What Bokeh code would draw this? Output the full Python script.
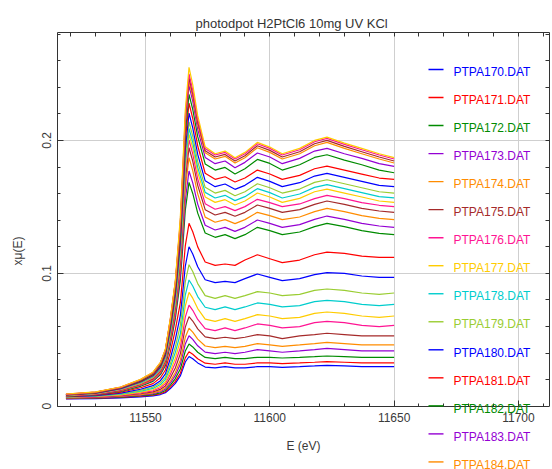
from bokeh.plotting import figure
from bokeh.models import (LinearAxis, SingleIntervalTicker, FixedTicker, CustomJSTickFormatter,
                          Label, BoxAnnotation, Range1d)
from bokeh.embed import file_html
from bokeh.resources import INLINE

# ---------------- data ----------------
energy = [11518, 11530, 11540, 11548, 11553, 11556, 11558, 11560, 11562, 11564,
          11565, 11566, 11567.5, 11569, 11571, 11574, 11578, 11582, 11586, 11590,
          11595, 11600, 11605, 11612, 11618, 11623, 11630, 11637, 11644, 11650]

ptpa170 = [0.0056, 0.0058, 0.0063, 0.0071, 0.0078, 0.0088, 0.0102, 0.0133, 0.0172, 0.0228, 0.0279, 0.0333, 0.0374, 0.0357, 0.0326, 0.0295, 0.0288, 0.0298, 0.0288, 0.0288, 0.0298, 0.0298, 0.0293, 0.0298, 0.0303, 0.0308, 0.0303, 0.0298, 0.0298, 0.0298]
ptpa171 = [0.0058, 0.0060, 0.0066, 0.0075, 0.0083, 0.0094, 0.0109, 0.0144, 0.0187, 0.0248, 0.0304, 0.0364, 0.0410, 0.0391, 0.0357, 0.0324, 0.0316, 0.0326, 0.0316, 0.0316, 0.0326, 0.0326, 0.0321, 0.0326, 0.0331, 0.0336, 0.0331, 0.0326, 0.0326, 0.0326]
ptpa172 = [0.0060, 0.0063, 0.0069, 0.0079, 0.0088, 0.0101, 0.0119, 0.0159, 0.0208, 0.0280, 0.0346, 0.0415, 0.0468, 0.0446, 0.0406, 0.0367, 0.0358, 0.0368, 0.0358, 0.0358, 0.0368, 0.0368, 0.0363, 0.0368, 0.0373, 0.0378, 0.0373, 0.0368, 0.0368, 0.0368]
ptpa173 = [0.0062, 0.0065, 0.0073, 0.0084, 0.0095, 0.0109, 0.0129, 0.0175, 0.0232, 0.0315, 0.0390, 0.0469, 0.0530, 0.0503, 0.0455, 0.0407, 0.0396, 0.0406, 0.0396, 0.0406, 0.0426, 0.0416, 0.0406, 0.0416, 0.0426, 0.0436, 0.0426, 0.0416, 0.0416, 0.0416]
ptpa174 = [0.0063, 0.0067, 0.0075, 0.0088, 0.0100, 0.0116, 0.0139, 0.0190, 0.0254, 0.0346, 0.0430, 0.0519, 0.0587, 0.0558, 0.0505, 0.0453, 0.0441, 0.0451, 0.0441, 0.0451, 0.0471, 0.0461, 0.0451, 0.0461, 0.0471, 0.0481, 0.0471, 0.0461, 0.0461, 0.0461]
ptpa175 = [0.0065, 0.0069, 0.0079, 0.0094, 0.0108, 0.0127, 0.0153, 0.0214, 0.0288, 0.0394, 0.0491, 0.0595, 0.0674, 0.0641, 0.0582, 0.0522, 0.0509, 0.0519, 0.0509, 0.0519, 0.0539, 0.0529, 0.0509, 0.0529, 0.0539, 0.0549, 0.0539, 0.0529, 0.0529, 0.0529]
ptpa176 = [0.0066, 0.0071, 0.0082, 0.0100, 0.0116, 0.0139, 0.0169, 0.0240, 0.0327, 0.0441, 0.0552, 0.0670, 0.0760, 0.0722, 0.0653, 0.0584, 0.0569, 0.0589, 0.0569, 0.0589, 0.0619, 0.0609, 0.0589, 0.0599, 0.0629, 0.0639, 0.0629, 0.0609, 0.0599, 0.0609]
ptpa177 = [0.0068, 0.0074, 0.0086, 0.0106, 0.0124, 0.0150, 0.0184, 0.0264, 0.0361, 0.0494, 0.0620, 0.0754, 0.0857, 0.0813, 0.0735, 0.0656, 0.0639, 0.0659, 0.0639, 0.0659, 0.0689, 0.0679, 0.0659, 0.0669, 0.0699, 0.0709, 0.0699, 0.0679, 0.0669, 0.0679]
ptpa178 = [0.0070, 0.0076, 0.0091, 0.0113, 0.0134, 0.0163, 0.0202, 0.0293, 0.0405, 0.0545, 0.0686, 0.0836, 0.0950, 0.0905, 0.0825, 0.0745, 0.0727, 0.0747, 0.0727, 0.0747, 0.0777, 0.0767, 0.0747, 0.0757, 0.0787, 0.0797, 0.0787, 0.0767, 0.0757, 0.0767]
ptpa179 = [0.0071, 0.0078, 0.0094, 0.0119, 0.0143, 0.0176, 0.0219, 0.0321, 0.0446, 0.0608, 0.0767, 0.0936, 0.1065, 0.1014, 0.0923, 0.0832, 0.0812, 0.0832, 0.0812, 0.0832, 0.0862, 0.0852, 0.0832, 0.0842, 0.0872, 0.0882, 0.0872, 0.0852, 0.0842, 0.0852]
ptpa180 = [0.0072, 0.0080, 0.0099, 0.0128, 0.0155, 0.0192, 0.0243, 0.0359, 0.0503, 0.0681, 0.0862, 0.1053, 0.1200, 0.1146, 0.1049, 0.0952, 0.0930, 0.0940, 0.0930, 0.0960, 0.0995, 0.0970, 0.0945, 0.0960, 0.0990, 0.1005, 0.1000, 0.0980, 0.0970, 0.0970]
ptpa181 = [0.0074, 0.0083, 0.0105, 0.0139, 0.0170, 0.0214, 0.0273, 0.0409, 0.0576, 0.0777, 0.0985, 0.1207, 0.1376, 0.1313, 0.1199, 0.1085, 0.1060, 0.1070, 0.1060, 0.1100, 0.1140, 0.1110, 0.1080, 0.1100, 0.1140, 0.1160, 0.1150, 0.1130, 0.1120, 0.1120]
ptpa182 = [0.0075, 0.0086, 0.0112, 0.0150, 0.0187, 0.0238, 0.0306, 0.0464, 0.0659, 0.0944, 0.1201, 0.1475, 0.1684, 0.1601, 0.1453, 0.1304, 0.1271, 0.1291, 0.1261, 0.1291, 0.1346, 0.1321, 0.1291, 0.1311, 0.1351, 0.1376, 0.1351, 0.1321, 0.1301, 0.1291]
ptpa183 = [0.0077, 0.0088, 0.0115, 0.0156, 0.0194, 0.0247, 0.0318, 0.0483, 0.0686, 0.0991, 0.1262, 0.1550, 0.1770, 0.1681, 0.1521, 0.1362, 0.1326, 0.1346, 0.1316, 0.1346, 0.1401, 0.1376, 0.1346, 0.1366, 0.1406, 0.1431, 0.1406, 0.1376, 0.1356, 0.1346]
ptpa184 = [0.0078, 0.0090, 0.0118, 0.0160, 0.0200, 0.0256, 0.0330, 0.0502, 0.0715, 0.1046, 0.1332, 0.1637, 0.1870, 0.1773, 0.1598, 0.1423, 0.1384, 0.1404, 0.1374, 0.1404, 0.1459, 0.1434, 0.1404, 0.1424, 0.1464, 0.1489, 0.1464, 0.1434, 0.1414, 0.1404]
ptpa185 = [0.0079, 0.0091, 0.0120, 0.0165, 0.0206, 0.0264, 0.0341, 0.0521, 0.0741, 0.1087, 0.1385, 0.1702, 0.1945, 0.1844, 0.1662, 0.1479, 0.1439, 0.1459, 0.1429, 0.1459, 0.1514, 0.1489, 0.1459, 0.1479, 0.1519, 0.1544, 0.1519, 0.1489, 0.1469, 0.1459]
ptpa186 = [0.0080, 0.0093, 0.0123, 0.0168, 0.0211, 0.0271, 0.0350, 0.0535, 0.0763, 0.1118, 0.1426, 0.1753, 0.2003, 0.1899, 0.1711, 0.1524, 0.1482, 0.1502, 0.1472, 0.1502, 0.1557, 0.1532, 0.1502, 0.1522, 0.1562, 0.1587, 0.1562, 0.1532, 0.1512, 0.1502]
ptpa187 = [0.0082, 0.0095, 0.0126, 0.0172, 0.0216, 0.0277, 0.0358, 0.0547, 0.0779, 0.1143, 0.1457, 0.1791, 0.2046, 0.1944, 0.1759, 0.1575, 0.1534, 0.1554, 0.1514, 0.1544, 0.1604, 0.1574, 0.1534, 0.1564, 0.1614, 0.1634, 0.1604, 0.1574, 0.1544, 0.1534]
ptpa188 = [0.0083, 0.0096, 0.0128, 0.0175, 0.0220, 0.0282, 0.0365, 0.0558, 0.0795, 0.1167, 0.1488, 0.1829, 0.2090, 0.1985, 0.1797, 0.1609, 0.1567, 0.1587, 0.1547, 0.1577, 0.1637, 0.1607, 0.1567, 0.1597, 0.1647, 0.1667, 0.1637, 0.1607, 0.1577, 0.1567]
ptpa189 = [0.0084, 0.0098, 0.0130, 0.0178, 0.0224, 0.0288, 0.0373, 0.0570, 0.0814, 0.1194, 0.1523, 0.1873, 0.2140, 0.2033, 0.1840, 0.1647, 0.1604, 0.1624, 0.1584, 0.1614, 0.1674, 0.1644, 0.1604, 0.1634, 0.1684, 0.1704, 0.1674, 0.1644, 0.1614, 0.1604]
ptpa190 = [0.0085, 0.0099, 0.0132, 0.0182, 0.0229, 0.0295, 0.0383, 0.0586, 0.0837, 0.1230, 0.1569, 0.1929, 0.2205, 0.2094, 0.1895, 0.1696, 0.1652, 0.1672, 0.1632, 0.1662, 0.1722, 0.1692, 0.1652, 0.1682, 0.1732, 0.1752, 0.1722, 0.1692, 0.1662, 0.1652]
ptpa191 = [0.0086, 0.0101, 0.0135, 0.0187, 0.0235, 0.0303, 0.0394, 0.0605, 0.0864, 0.1271, 0.1622, 0.1995, 0.2280, 0.2165, 0.1959, 0.1753, 0.1707, 0.1727, 0.1687, 0.1717, 0.1777, 0.1747, 0.1707, 0.1737, 0.1787, 0.1807, 0.1777, 0.1747, 0.1717, 0.1707]
ptpa192 = [0.0087, 0.0102, 0.0137, 0.0191, 0.0241, 0.0311, 0.0404, 0.0621, 0.0889, 0.1307, 0.1669, 0.2053, 0.2347, 0.2233, 0.2028, 0.1823, 0.1777, 0.1797, 0.1747, 0.1787, 0.1857, 0.1827, 0.1777, 0.1817, 0.1872, 0.1892, 0.1852, 0.1817, 0.1777, 0.1757]
ptpa193 = [0.0088, 0.0104, 0.0140, 0.0195, 0.0246, 0.0318, 0.0414, 0.0637, 0.0912, 0.1343, 0.1715, 0.2110, 0.2412, 0.2295, 0.2083, 0.1872, 0.1825, 0.1845, 0.1795, 0.1835, 0.1905, 0.1875, 0.1825, 0.1865, 0.1920, 0.1940, 0.1900, 0.1865, 0.1825, 0.1805]
ptpa194 = [0.0089, 0.0105, 0.0141, 0.0197, 0.0249, 0.0322, 0.0420, 0.0646, 0.0925, 0.1361, 0.1738, 0.2139, 0.2445, 0.2328, 0.2117, 0.1907, 0.1860, 0.1880, 0.1830, 0.1870, 0.1945, 0.1910, 0.1860, 0.1900, 0.1960, 0.1985, 0.1940, 0.1900, 0.1860, 0.1830]
ptpa195 = [0.0090, 0.0106, 0.0143, 0.0199, 0.0252, 0.0325, 0.0424, 0.0652, 0.0932, 0.1375, 0.1756, 0.2161, 0.2470, 0.2351, 0.2137, 0.1923, 0.1875, 0.1895, 0.1845, 0.1885, 0.1960, 0.1925, 0.1875, 0.1915, 0.1975, 0.2000, 0.1955, 0.1915, 0.1875, 0.1845]
ptpa196 = [0.0091, 0.0107, 0.0144, 0.0201, 0.0254, 0.0328, 0.0427, 0.0657, 0.0940, 0.1392, 0.1777, 0.2187, 0.2500, 0.2378, 0.2158, 0.1939, 0.1890, 0.1910, 0.1860, 0.1900, 0.1975, 0.1940, 0.1890, 0.1930, 0.1990, 0.2015, 0.1970, 0.1930, 0.1890, 0.1860]
ptpa197 = [0.0092, 0.0108, 0.0145, 0.0202, 0.0256, 0.0330, 0.0430, 0.0661, 0.0945, 0.1419, 0.1813, 0.2231, 0.2550, 0.2420, 0.2186, 0.1952, 0.1900, 0.1920, 0.1870, 0.1910, 0.1985, 0.1950, 0.1900, 0.1940, 0.2000, 0.2025, 0.1980, 0.1940, 0.1900, 0.1870]

series = [ptpa170, ptpa171, ptpa172, ptpa173, ptpa174, ptpa175, ptpa176, ptpa177,
          ptpa178, ptpa179, ptpa180, ptpa181, ptpa182, ptpa183, ptpa184, ptpa185,
          ptpa186, ptpa187, ptpa188, ptpa189, ptpa190, ptpa191, ptpa192, ptpa193,
          ptpa194, ptpa195, ptpa196, ptpa197]

legend_labels = ["PTPA170.DAT", "PTPA171.DAT", "PTPA172.DAT", "PTPA173.DAT",
                 "PTPA174.DAT", "PTPA175.DAT", "PTPA176.DAT", "PTPA177.DAT",
                 "PTPA178.DAT", "PTPA179.DAT", "PTPA180.DAT", "PTPA181.DAT",
                 "PTPA182.DAT", "PTPA183.DAT", "PTPA184.DAT"]

x_tick_interval = 50
y_tick_interval = 0.1
y_top = 0.2812
top_minor_ticks = [11520, 11530, 11540, 11550, 11560, 11570, 11580, 11590, 11600, 11610,
                   11620, 11630, 11640, 11650, 11660, 11670, 11680, 11690, 11700, 11710]
right_minor_ticks = [0.02, 0.04, 0.06, 0.08, 0.10, 0.12, 0.14, 0.16, 0.18, 0.20,
                     0.22, 0.24, 0.26, 0.28]

palette = ["#0000ff", "#ff0000", "#008b00", "#9400d3", "#ff8c00",
           "#a52a2a", "#ff1493", "#ffcc00", "#00cdcd", "#9acd32"]

FONT = "Liberation Sans"
TXT = "#3a3a3a"
AX = "#333333"

# ---------------- figure ----------------
# the frame runs down to the bottom of the canvas so that the legend (which in the
# reference runs past the x axis) is not clipped; the x axis sits at y = 0.
p = figure(width=552, height=469,
           x_range=Range1d(11514.6, 11712.5), y_range=Range1d(-0.0476, y_top),
           output_backend="svg", toolbar_location=None,
           min_border_left=57, min_border_right=3, min_border_top=32, min_border_bottom=0,
           x_axis_label="E (eV)", y_axis_label="x\u03bc(E)")
p.background_fill_color = "white"
p.border_fill_color = "white"
p.outline_line_color = None

p.title.text = "photodpot H2PtCl6 10mg UV KCl"
p.title.align = "left"
p.title.offset = 138
p.title.text_font = FONT
p.title.text_font_size = "13px"
p.title.text_font_style = "normal"
p.title.text_color = "#333333"
p.title.standoff = 4

xt = SingleIntervalTicker(interval=x_tick_interval, num_minor_ticks=5)
yt = SingleIntervalTicker(interval=y_tick_interval, num_minor_ticks=5)
p.xaxis.ticker = xt
p.yaxis.ticker = yt
p.xgrid.ticker = xt
p.ygrid.ticker = yt
p.yaxis.formatter = CustomJSTickFormatter(code="return String(Math.round(tick*1000)/1000);")

for ax in (p.xaxis[0], p.yaxis[0]):
    ax.major_tick_in = 6
    ax.major_tick_out = 0
    ax.minor_tick_in = 3
    ax.minor_tick_out = 0
    ax.axis_line_color = AX
    ax.major_tick_line_color = AX
    ax.minor_tick_line_color = AX
    ax.major_label_text_font = FONT
    ax.major_label_text_font_size = "12px"
    ax.major_label_text_color = TXT
    ax.axis_label_text_font = FONT
    ax.axis_label_text_font_size = "12px"
    ax.axis_label_text_font_style = "normal"
    ax.axis_label_text_color = TXT

p.xaxis.fixed_location = 0
p.xaxis.major_label_standoff = 7
p.xaxis.axis_label_standoff = 13
p.yaxis.bounds = (0, y_top)
p.yaxis.major_label_orientation = "vertical"
p.yaxis.major_label_standoff = 6
p.yaxis.axis_label_standoff = 15

# frame ticks on top and right (tick marks only, no labels)
top_axis = LinearAxis(ticker=FixedTicker(ticks=[], minor_ticks=top_minor_ticks),
                      minor_tick_in=4, minor_tick_out=0, major_tick_in=0, major_tick_out=0,
                      axis_line_color=AX, minor_tick_line_color=AX)
right_axis = LinearAxis(ticker=FixedTicker(ticks=[], minor_ticks=right_minor_ticks),
                        bounds=(0, y_top),
                        minor_tick_in=4, minor_tick_out=0, major_tick_in=0, major_tick_out=0,
                        axis_line_color=AX, minor_tick_line_color=AX)
p.add_layout(top_axis, "above")
p.add_layout(right_axis, "right")

p.xgrid.grid_line_color = "#cfcfcf"
p.ygrid.grid_line_color = "#cfcfcf"
p.xgrid.grid_line_width = 1
p.ygrid.grid_line_width = 1

# white cover below the x axis (grid lines stop at y = 0 in the reference)
p.add_layout(BoxAnnotation(top=0, fill_color="white", fill_alpha=1.0, line_alpha=0,
                           level="underlay"))

for i, vals in enumerate(series):
    p.line(energy, vals, line_color=palette[i % len(palette)], line_width=1.2)

# legend drawn as screen-positioned swatches and coloured labels
for i, lab in enumerate(legend_labels):
    col = palette[i % len(palette)]
    p.add_layout(BoxAnnotation(left=371, right=386,
                               bottom=399.3 - 28.03 * i, top=400.7 - 28.03 * i,
                               left_units="screen", right_units="screen",
                               bottom_units="screen", top_units="screen",
                               fill_color=col, fill_alpha=1.0, line_alpha=0,
                               level="overlay"))
    p.add_layout(Label(x=396, y=397.3 - 28.03 * i, x_units="screen", y_units="screen",
                       text=lab, text_color=col, text_font=FONT, text_font_size="12px",
                       text_baseline="middle", text_align="left", level="overlay"))

open("out.html", "w").write(file_html(p, INLINE, "photodpot H2PtCl6 10mg UV KCl"))
